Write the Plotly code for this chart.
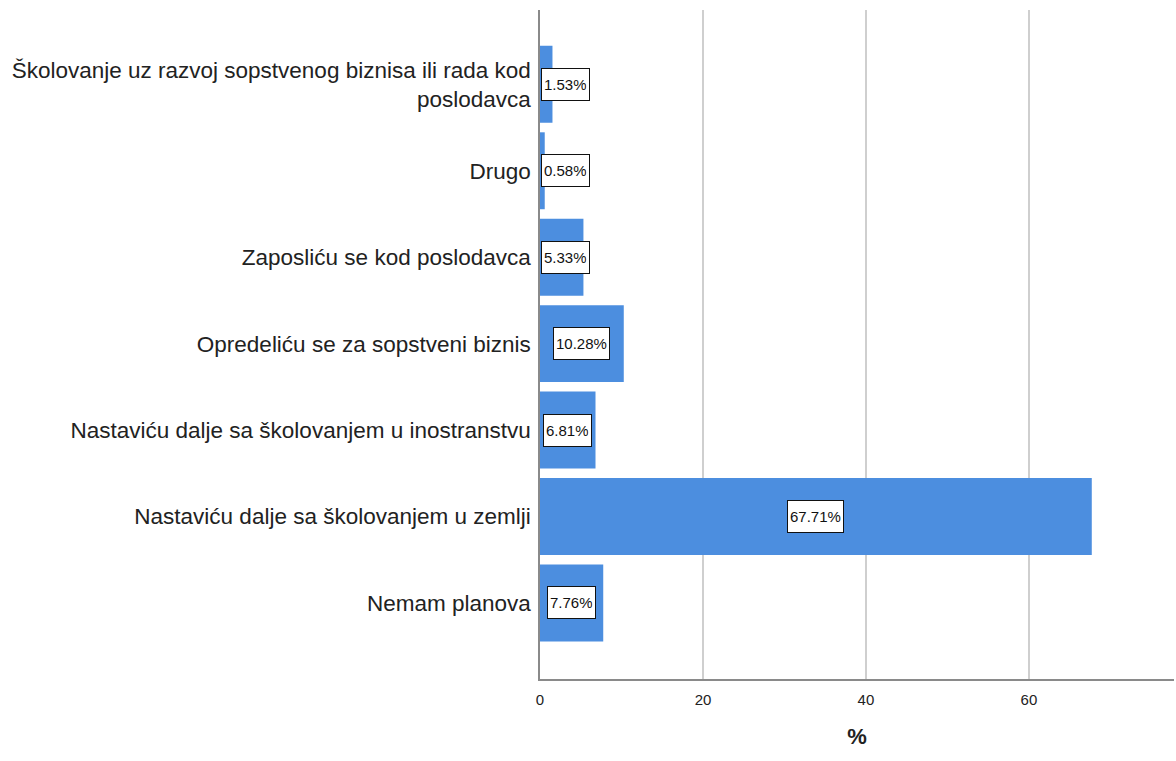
import plotly.graph_objects as go

categories = [
    "Nemam planova",
    "Nastaviću dalje sa školovanjem u zemlji",
    "Nastaviću dalje sa školovanjem u inostranstvu",
    "Opredeliću se za sopstveni biznis",
    "Zaposliću se kod poslodavca",
    "Drugo",
    "Školovanje uz razvoj sopstvenog biznisa ili rada kod<br>poslodavca",
]
values = [7.76, 67.71, 6.81, 10.28, 5.33, 0.58, 1.53]
x_ticks = [0, 20, 40, 60]

FONT = "Liberation Sans, Arial, sans-serif"

fig = go.Figure(
    go.Bar(
        x=values,
        y=categories,
        orientation="h",
        marker=dict(color="#4C8EDF", line=dict(width=0)),
        width=0.89,
        hoverinfo="skip",
    )
)

annotations = []
for c, v in zip(categories, values):
    if v / 2 < 3.3:
        annotations.append(dict(x=0.15, y=c, xanchor="left", text=f"{v:.2f}%"))
    else:
        annotations.append(dict(x=v / 2, y=c, xanchor="center", text=f"{v:.2f}%"))
for a in annotations:
    a.update(
        xref="x", yref="y", showarrow=False, yanchor="middle",
        font=dict(family=FONT, size=15, color="#111"),
        bgcolor="white", bordercolor="#111", borderwidth=1, borderpad=2, height=27,
    )

fig.update_layout(
    width=1176, height=761,
    margin=dict(l=540, r=2, t=10, b=82),
    paper_bgcolor="white", plot_bgcolor="white",
    showlegend=False,
    annotations=annotations,
    xaxis=dict(
        range=[0, 77.8], tickvals=x_ticks, showgrid=True, gridcolor="#CFCFCF",
        gridwidth=1.5, zeroline=False, showline=True, linecolor="#8A8A8A", linewidth=1.5,
        ticks="outside", ticklen=6, tickcolor="white",
        tickfont=dict(family=FONT, size=15, color="#222"),
        title=dict(text="<b>%</b>", font=dict(family=FONT, size=22, color="#222"), standoff=22),
    ),
    yaxis=dict(
        categoryorder="array", categoryarray=categories, range=[-0.88, 6.86],
        showgrid=False, zeroline=False, showline=True, linecolor="#8A8A8A", linewidth=1.5,
        ticks="outside", ticklen=3, tickcolor="white",
        tickfont=dict(family=FONT, size=22.5, color="#222"),
    ),
)

fig.write_html(
    "out.html",
    config={"displayModeBar": False},
    post_script="document.body.style.margin='0';document.body.style.overflow='hidden';",
)
